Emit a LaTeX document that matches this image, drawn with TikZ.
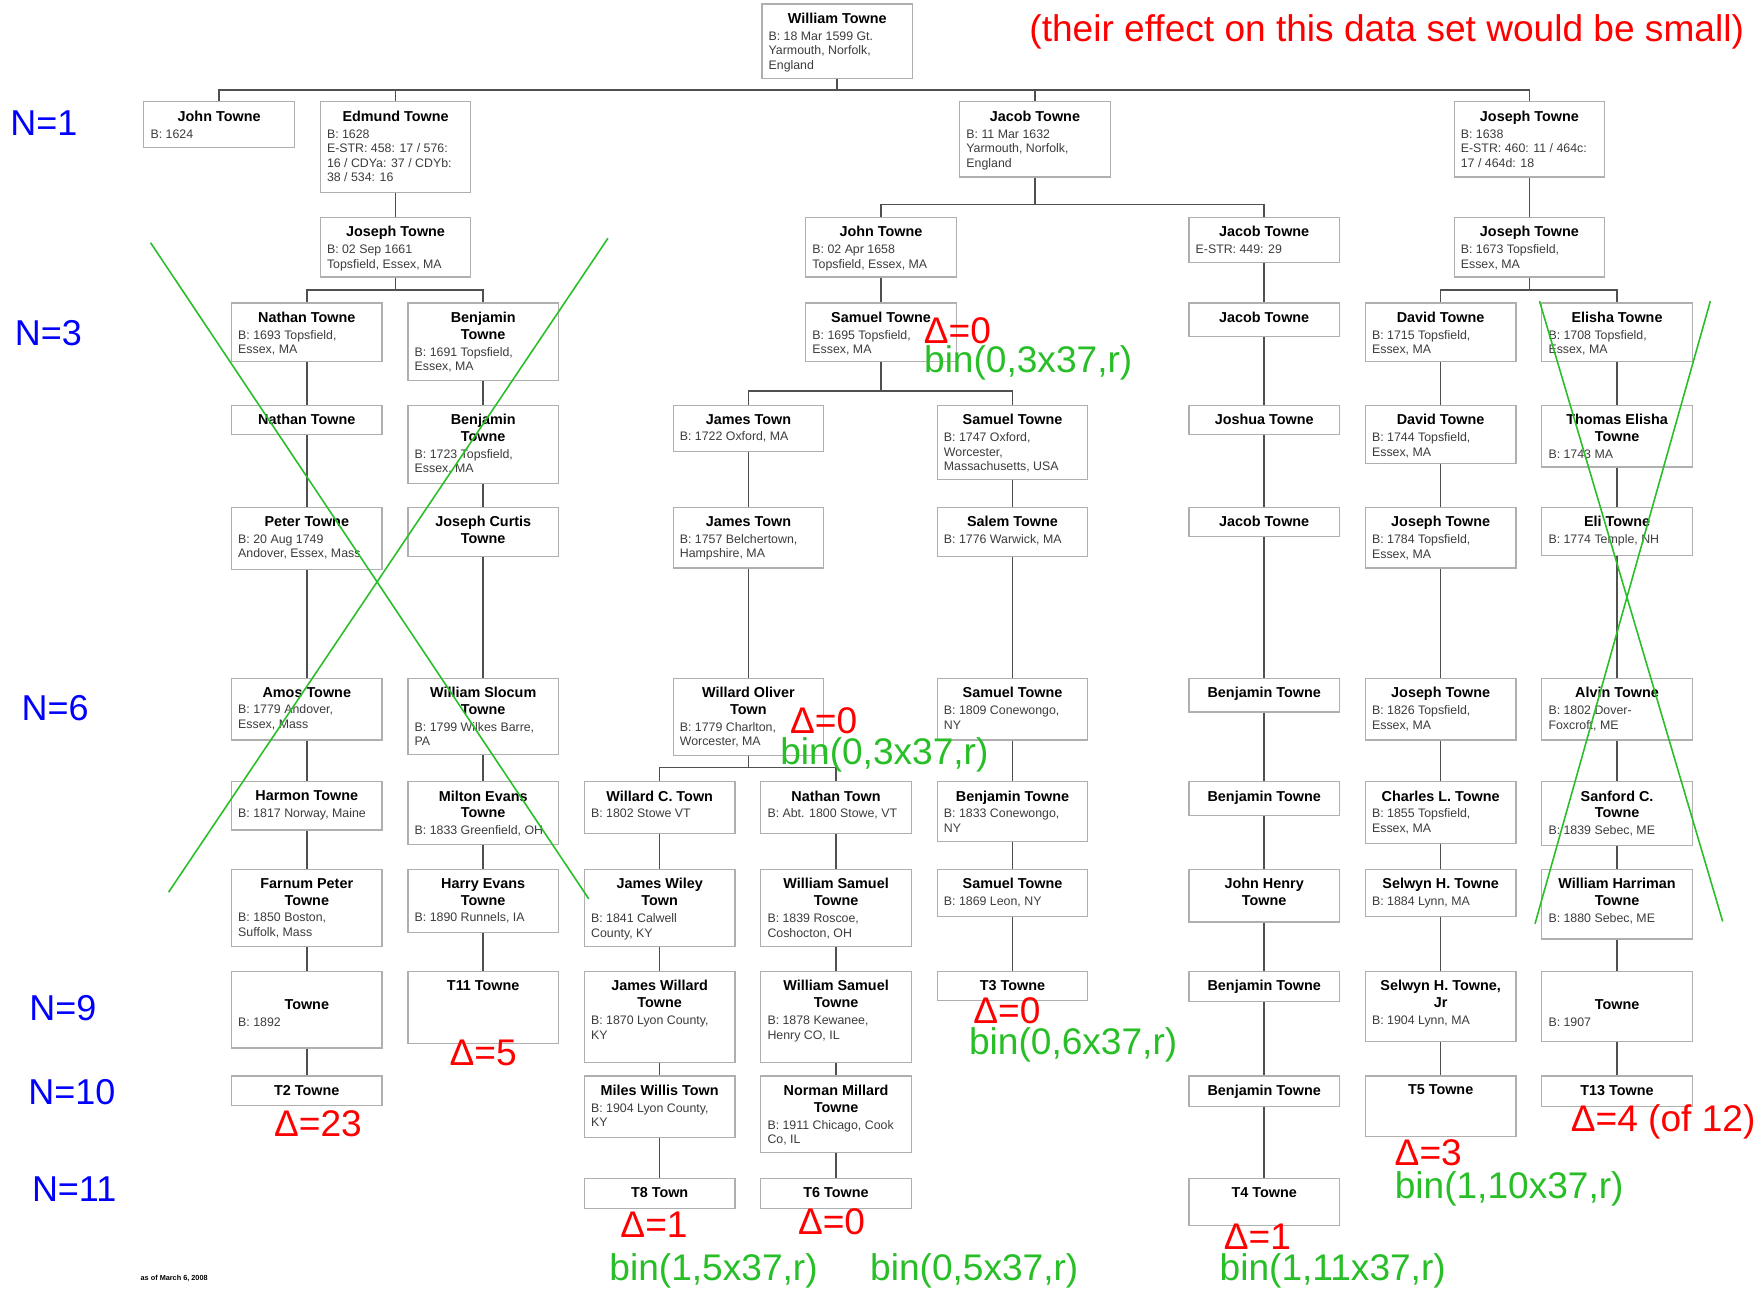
\documentclass[tikz,border=0pt]{standalone}
\usepackage{fontspec}
\setmainfont{Liberation Sans}
\usepackage{tikz}

\definecolor{boxgray}{RGB}{175,175,175}
\definecolor{linkgray}{RGB}{80,80,80}
\definecolor{infogray}{RGB}{60,60,60}
\definecolor{markgreen}{RGB}{40,190,40}

% one family member: height, then title and details
\newcommand{\ttl}[1]{{\centering\fontsize{12.8}{15}\selectfont\bfseries\color{black}#1\par}\vspace{2pt}}
\newcommand{\card}[2]{\parbox[t][#1pt][t]{122pt}{\raggedright\vspace*{8pt}#2}}

\tikzset{
  person/.style={draw=boxgray, line width=1.1pt, fill=white, anchor=north,
    inner xsep=6pt, inner ysep=0pt, text=infogray, font=\fontsize{11}{13}\selectfont},
  link/.style={draw=linkgray, line width=1.5pt},
  gen/.style={text=blue, inner sep=0pt, font=\fontsize{32}{32}\selectfont},
  delta/.style={text=red, inner sep=0pt, font=\fontsize{33}{33}\selectfont},
  binom/.style={text=markgreen, inner sep=0pt, font=\fontsize{33}{33}\selectfont},
  strike/.style={draw=markgreen, line width=1.4pt}
}

\begin{document}
\begin{tikzpicture}[x=1pt, y=-1pt]
  \useasboundingbox (0,0) rectangle (1568,1148);

  % root
  \node[person] (william) at (745,3) {\card{66}{\ttl{William Towne}B: 18 Mar 1599 Gt.\\Yarmouth, Norfolk,\\England}};

  % sons
  \node[person] (john) at (195,90) {\card{41}{\ttl{John Towne}B: 1624}};
  \node[person] (edmund) at (352,90) {\card{81}{\ttl{Edmund Towne}B: 1628\\E-STR: 458: 17 / 576:\\16 / CDYa: 37 / CDYb:\\38 / 534: 16}};
  \node[person] (jacob) at (921,90) {\card{67}{\ttl{Jacob Towne}B: 11 Mar 1632\\Yarmouth, Norfolk,\\England}};
  \node[person] (joseph) at (1361,90) {\card{67}{\ttl{Joseph Towne}B: 1638\\E-STR: 460: 11 / 464c:\\17 / 464d: 18}};

  \node[person] (b2) at (352,193) {\card{53}{\ttl{Joseph Towne}B: 02 Sep 1661\\Topsfield, Essex, MA}};
  \node[person] (g2) at (784,193) {\card{53}{\ttl{John Towne}B: 02 Apr 1658\\Topsfield, Essex, MA}};
  \node[person] (h2) at (1125,193) {\card{40}{\ttl{Jacob Towne}E-STR: 449: 29}};
  \node[person] (j2) at (1361,193) {\card{53}{\ttl{Joseph Towne}B: 1673 Topsfield,\\Essex, MA}};

  \node[person] (a3) at (273,269) {\card{52}{\ttl{Nathan Towne}B: 1693 Topsfield,\\Essex, MA}};
  \node[person] (b3) at (430,269) {\card{69}{\ttl{Benjamin\\Towne}B: 1691 Topsfield,\\Essex, MA}};
  \node[person] (g3) at (784,269) {\card{52}{\ttl{Samuel Towne}B: 1695 Topsfield,\\Essex, MA}};
  \node[person] (h3) at (1125,269) {\card{30}{\ttl{Jacob Towne}}};
  \node[person] (k3) at (1282,269) {\card{52}{\ttl{David Towne}B: 1715 Topsfield,\\Essex, MA}};
  \node[person] (l3) at (1439,269) {\card{52}{\ttl{Elisha Towne}B: 1708 Topsfield,\\Essex, MA}};

  \node[person] (a4) at (273,360) {\card{26}{\ttl{Nathan Towne}}};
  \node[person] (b4) at (430,360) {\card{70}{\ttl{Benjamin\\Towne}B: 1723 Topsfield,\\Essex, MA}};
  \node[person] (e4) at (666,360) {\card{41}{\ttl{James Town}B: 1722 Oxford, MA}};
  \node[person] (f4) at (901,360) {\card{66}{\ttl{Samuel Towne}B: 1747 Oxford,\\Worcester,\\Massachusetts, USA}};
  \node[person] (h4) at (1125,360) {\card{26}{\ttl{Joshua Towne}}};
  \node[person] (k4) at (1282,360) {\card{52}{\ttl{David Towne}B: 1744 Topsfield,\\Essex, MA}};
  \node[person] (l4) at (1439,360) {\card{55}{\ttl{Thomas Elisha\\Towne}B: 1743 MA}};

  \node[person] (a5) at (273,451) {\card{55}{\ttl{Peter Towne}B: 20 Aug 1749\\Andover, Essex, Mass}};
  \node[person] (b5) at (430,451) {\card{44}{\ttl{Joseph Curtis\\Towne}}};
  \node[person] (e5) at (666,451) {\card{54}{\ttl{James Town}B: 1757 Belchertown,\\Hampshire, MA}};
  \node[person] (f5) at (901,451) {\card{44}{\ttl{Salem Towne}B: 1776 Warwick, MA}};
  \node[person] (h5) at (1125,451) {\card{26}{\ttl{Jacob Towne}}};
  \node[person] (k5) at (1282,451) {\card{54}{\ttl{Joseph Towne}B: 1784 Topsfield,\\Essex, MA}};
  \node[person] (l5) at (1439,451) {\card{43}{\ttl{Eli Towne}B: 1774 Temple, NH}};

  \node[person] (a6) at (273,603) {\card{55}{\ttl{Amos Towne}B: 1779 Andover,\\Essex, Mass}};
  \node[person] (b6) at (430,603) {\card{68}{\ttl{William Slocum\\Towne}B: 1799 Wilkes Barre,\\PA}};
  \node[person] (e6) at (666,603) {\card{69}{\ttl{Willard Oliver\\Town}B: 1779 Charlton,\\Worcester, MA}};
  \node[person] (f6) at (901,603) {\card{55}{\ttl{Samuel Towne}B: 1809 Conewongo,\\NY}};
  \node[person] (h6) at (1125,603) {\card{30}{\ttl{Benjamin Towne}}};
  \node[person] (k6) at (1282,603) {\card{55}{\ttl{Joseph Towne}B: 1826 Topsfield,\\Essex, MA}};
  \node[person] (l6) at (1439,603) {\card{55}{\ttl{Alvin Towne}B: 1802 Dover-\\Foxcroft, ME}};

  \node[person] (a7) at (273,695) {\card{43}{\ttl{Harmon Towne}B: 1817 Norway, Maine}};
  \node[person] (b7) at (430,695) {\card{56}{\ttl{Milton Evans\\Towne}B: 1833 Greenfield, OH}};
  \node[person] (c7) at (587,695) {\card{46}{\ttl{Willard C. Town}B: 1802 Stowe VT}};
  \node[person] (d7) at (744,695) {\card{46}{\ttl{Nathan Town}B: Abt. 1800 Stowe, VT}};
  \node[person] (f7) at (901,695) {\card{53}{\ttl{Benjamin Towne}B: 1833 Conewongo,\\NY}};
  \node[person] (h7) at (1125,695) {\card{30}{\ttl{Benjamin Towne}}};
  \node[person] (k7) at (1282,695) {\card{55}{\ttl{Charles L. Towne}B: 1855 Topsfield,\\Essex, MA}};
  \node[person] (l7) at (1439,695) {\card{57}{\ttl{Sanford C.\\Towne}B: 1839 Sebec, ME}};

  \node[person] (a8) at (273,773) {\card{69}{\ttl{Farnum Peter\\Towne}B: 1850 Boston,\\Suffolk, Mass}};
  \node[person] (b8) at (430,773) {\card{56}{\ttl{Harry Evans\\Towne}B: 1890 Runnels, IA}};
  \node[person] (c8) at (587,773) {\card{69}{\ttl{James Wiley\\Town}B: 1841 Calwell\\County, KY}};
  \node[person] (d8) at (744,773) {\card{69}{\ttl{William Samuel\\Towne}B: 1839 Roscoe,\\Coshocton, OH}};
  \node[person] (f8) at (901,773) {\card{42}{\ttl{Samuel Towne}B: 1869 Leon, NY}};
  \node[person] (h8) at (1125,773) {\card{47}{\ttl{John Henry\\Towne}}};
  \node[person] (k8) at (1282,773) {\card{42}{\ttl{Selwyn H. Towne}B: 1884 Lynn, MA}};
  \node[person] (l8) at (1439,773) {\card{62}{\ttl{William Harriman\\Towne}B: 1880 Sebec, ME}};

  \node[person] (a9) at (273,864) {\card{68}{\ttl{\strut\\Towne}B: 1892}};
  \node[person] (b9) at (430,864) {\card{64}{\ttl{T11 Towne}}};
  \node[person] (c9) at (587,864) {\card{81}{\ttl{James Willard\\Towne}B: 1870 Lyon County,\\KY}};
  \node[person] (d9) at (744,864) {\card{81}{\ttl{William Samuel\\Towne}B: 1878 Kewanee,\\Henry CO, IL}};
  \node[person] (f9) at (901,864) {\card{26}{\ttl{T3 Towne}}};
  \node[person] (h9) at (1125,864) {\card{27}{\ttl{Benjamin Towne}}};
  \node[person] (k9) at (1282,864) {\card{62}{\ttl{Selwyn H. Towne,\\Jr}B: 1904 Lynn, MA}};
  \node[person] (l9) at (1439,864) {\card{62}{\ttl{\strut\\Towne}B: 1907}};

  \node[person] (a10) at (273,957) {\card{26}{\ttl{T2 Towne}}};
  \node[person] (c10) at (587,957) {\card{55}{\ttl{Miles Willis Town}B: 1904 Lyon County,\\KY}};
  \node[person] (d10) at (744,957) {\card{68}{\ttl{Norman Millard\\Towne}B: 1911 Chicago, Cook\\Co, IL}};
  \node[person] (h10) at (1125,957) {\card{27}{\ttl{Benjamin Towne}}};
  \node[person] (k10) at (1282,957) {\card{54}{\ttl{T5 Towne}}};
  \node[person] (l10) at (1439,957) {\card{27}{\ttl{T13 Towne}}};

  \node[person] (c11) at (587,1048) {\card{27}{\ttl{T8 Town}}};
  \node[person] (d11) at (744,1048) {\card{27}{\ttl{T6 Towne}}};
  \node[person] (h11) at (1125,1048) {\card{42}{\ttl{T4 Towne}}};

  % branching lines
  \draw[link] (william.south) |- ([yshift=10pt]john.north) -- (john.north);
  \draw[link] (william.south) |- ([yshift=10pt]edmund.north) -- (edmund.north);
  \draw[link] (william.south) |- ([yshift=10pt]jacob.north) -- (jacob.north);
  \draw[link] (william.south) |- ([yshift=10pt]joseph.north) -- (joseph.north);
  \draw[link] (jacob.south) |- ([yshift=11pt]g2.north) -- (g2.north);
  \draw[link] (jacob.south) |- ([yshift=11pt]h2.north) -- (h2.north);
  \draw[link] (b2.south) |- ([yshift=11pt]a3.north) -- (a3.north);
  \draw[link] (b2.south) |- ([yshift=11pt]b3.north) -- (b3.north);
  \draw[link] (j2.south) |- ([yshift=11pt]k3.north) -- (k3.north);
  \draw[link] (j2.south) |- ([yshift=11pt]l3.north) -- (l3.north);
  \draw[link] (g3.south) |- ([yshift=12pt]e4.north) -- (e4.north);
  \draw[link] (g3.south) |- ([yshift=12pt]f4.north) -- (f4.north);
  \draw[link] (e6.south) |- ([yshift=12pt]c7.north) -- (c7.north);
  \draw[link] (e6.south) |- ([yshift=12pt]d7.north) -- (d7.north);

  % straight lines of descent
  \draw[link] (edmund) -- (b2);
  \draw[link] (joseph) -- (j2);
  \draw[link] (g2) -- (g3);
  \draw[link] (h2) -- (h3) -- (h4) -- (h5) -- (h6) -- (h7) -- (h8) -- (h9) -- (h10) -- (h11);
  \draw[link] (a3) -- (a4) -- (a5) -- (a6) -- (a7) -- (a8) -- (a9) -- (a10);
  \draw[link] (b3) -- (b4) -- (b5) -- (b6) -- (b7) -- (b8) -- (b9);
  \draw[link] (e4) -- (e5) -- (e6);
  \draw[link] (f4) -- (f5) -- (f6) -- (f7) -- (f8) -- (f9);
  \draw[link] (c7) -- (c8) -- (c9) -- (c10) -- (c11);
  \draw[link] (d7) -- (d8) -- (d9) -- (d10) -- (d11);
  \draw[link] (k3) -- (k4) -- (k5) -- (k6) -- (k7) -- (k8) -- (k9) -- (k10);
  \draw[link] (l3) -- (l4) -- (l5) -- (l6) -- (l7) -- (l8) -- (l9) -- (l10);

  % generations
  \node[gen] (n1) at (39,110) {N=1};
  \node[gen] (n3) at (43,296) {N=3};
  \node[gen] (n6) at (49,630) {N=6};
  \node[gen] (n9) at (56,897) {N=9};
  \node[gen] (n10) at (64,972) {N=10};
  \node[gen] (n11) at (66,1058) {N=11};

  % mutation counts
  \node[delta] (note) at (1234,28) {(their effect on this data set would be small)};
  \node[delta] (dg3) at (852,294) {Δ=0};
  \node[binom] (bg3) at (915,323) {bin(0,3x37,r)};
  \node[delta] (de6) at (733,641) {Δ=0};
  \node[binom] (be6) at (787,672) {bin(0,3x37,r)};
  \node[delta] (df9) at (896,899) {Δ=0};
  \node[binom] (bf9) at (955,930) {bin(0,6x37,r)};
  \node[delta] (db9) at (430,937) {Δ=5};
  \node[delta] (da10) at (283,1000) {Δ=23};
  \node[delta] (dc11) at (582,1090) {Δ=1};
  \node[delta] (dd11) at (740,1087) {Δ=0};
  \node[binom] (bc11) at (635,1131) {bin(1,5x37,r)};
  \node[binom] (bd11) at (867,1131) {bin(0,5x37,r)};
  \node[delta] (dh11) at (1119,1101) {Δ=1};
  \node[binom] (bh11) at (1186,1131) {bin(1,11x37,r)};
  \node[delta] (dk10) at (1271,1026) {Δ=3};
  \node[binom] (bk10) at (1343,1058) {bin(1,10x37,r)};
  \node[delta] (dl10) at (1480,998) {Δ=4 (of 12)};

  \node[inner sep=0pt, font=\fontsize{6.5}{7}\selectfont\bfseries] (stamp) at (155,1138) {as of March 6, 2008};

  % crossed-out lines
  \draw[strike] (134,216) -- (524,800);
  \draw[strike] (541,212) -- (150,794);
  \draw[strike] (1370,268) -- (1533,820);
  \draw[strike] (1522,268) -- (1366,822);
\end{tikzpicture}
\end{document}
